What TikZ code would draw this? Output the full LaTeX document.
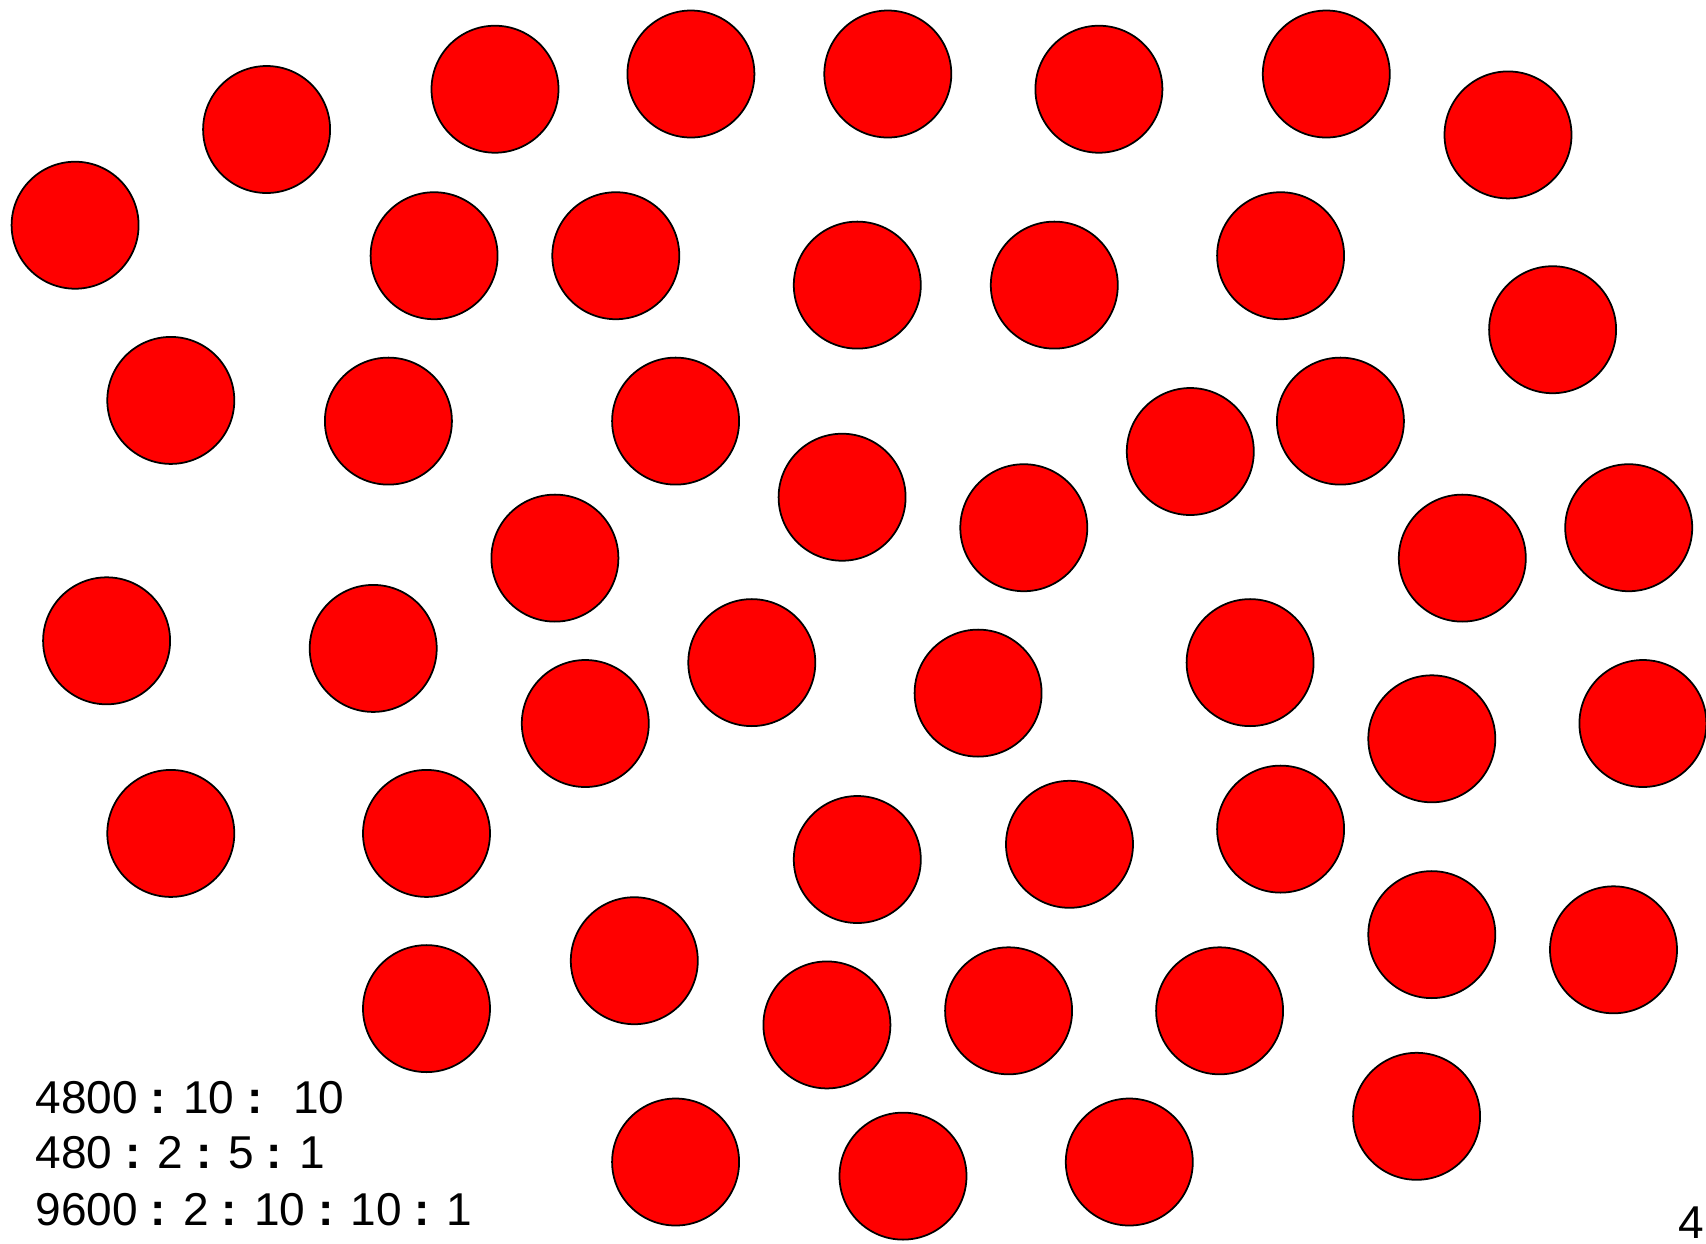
\documentclass[tikz,border=0pt]{standalone}
\usepackage{fontspec}
\setmainfont{Liberation Sans}
\usepackage{xcolor}
\usepackage{tikz}
\tikzset{
  redball/.style={circle, draw=black, fill=red, line width=0.5pt, minimum size=12.7mm, inner sep=0pt},
  ratiolabel/.style={anchor=base west, inner sep=0pt, font=\fontsize{13.1}{16}\selectfont}
}
\newcommand{\rc}{\textbf{:}}

\begin{document}
\begin{tikzpicture}[x=1cm, y=-1cm]
  \useasboundingbox (0,0) rectangle (17.06,12.43);
  % top rows
  \node[redball] (b1) at (0.751,2.252) {};
  \node[redball] (b2) at (2.666,1.295) {};
  \node[redball] (b3) at (4.950,0.892) {};
  \node[redball] (b4) at (6.909,0.740) {};
  \node[redball] (b5) at (8.878,0.740) {};
  \node[redball] (b6) at (10.989,0.892) {};
  \node[redball] (b7) at (13.263,0.740) {};
  \node[redball] (b8) at (15.080,1.349) {};
  \node[redball] (b9) at (4.341,2.557) {};
  \node[redball] (b10) at (6.158,2.557) {};
  \node[redball] (b11) at (8.573,2.851) {};
  \node[redball] (b12) at (10.543,2.851) {};
  \node[redball] (b13) at (12.806,2.557) {};
  \node[redball] (b14) at (15.526,3.297) {};
  \node[redball] (b15) at (1.708,4.004) {};
  \node[redball] (b16) at (3.884,4.211) {};
  \node[redball] (b17) at (6.756,4.211) {};
  \node[redball] (b18) at (11.903,4.515) {};
  \node[redball] (b19) at (13.404,4.211) {};
  \node[redball] (b20) at (8.421,4.972) {};
  \node[redball] (b21) at (10.238,5.277) {};
  \node[redball] (b22) at (5.549,5.581) {};
  \node[redball] (b23) at (14.623,5.581) {};
  \node[redball] (b24) at (16.287,5.277) {};
  % middle rows
  \node[redball] (b25) at (1.066,6.408) {};
  \node[redball] (b26) at (3.732,6.484) {};
  \node[redball] (b27) at (7.518,6.626) {};
  \node[redball] (b28) at (9.781,6.931) {};
  \node[redball] (b29) at (12.501,6.626) {};
  \node[redball] (b30) at (5.853,7.235) {};
  \node[redball] (b31) at (14.318,7.388) {};
  \node[redball] (b32) at (16.429,7.235) {};
  \node[redball] (b33) at (1.708,8.334) {};
  \node[redball] (b34) at (4.265,8.334) {};
  \node[redball] (b35) at (8.573,8.595) {};
  \node[redball] (b36) at (10.695,8.443) {};
  \node[redball] (b37) at (12.806,8.291) {};
  % bottom rows
  \node[redball] (b38) at (6.343,9.607) {};
  \node[redball] (b39) at (14.318,9.346) {};
  \node[redball] (b40) at (16.135,9.498) {};
  \node[redball] (b41) at (4.265,10.086) {};
  \node[redball] (b42) at (8.269,10.249) {};
  \node[redball] (b43) at (10.086,10.108) {};
  \node[redball] (b44) at (12.196,10.108) {};
  \node[redball] (b45) at (14.166,11.163) {};
  \node[redball] (b46) at (6.756,11.620) {};
  \node[redball] (b47) at (9.030,11.761) {};
  \node[redball] (b48) at (11.293,11.620) {};

  % ratios
  \node[ratiolabel] (ratioa) at (0.35,11.13) {4800 \rc{} 10 \rc\ \hspace{5pt}10};
  \node[ratiolabel] (ratiob) at (0.35,11.68) {480 \rc{} 2 \rc{} 5 \rc{} 1};
  \node[ratiolabel] (ratioc) at (0.35,12.25) {9600 \rc{} 2 \rc{} 10 \rc{} 10 \rc{} 1};
  \node[ratiolabel] (pagenum) at (16.78,12.38) {4};
\end{tikzpicture}
\end{document}
